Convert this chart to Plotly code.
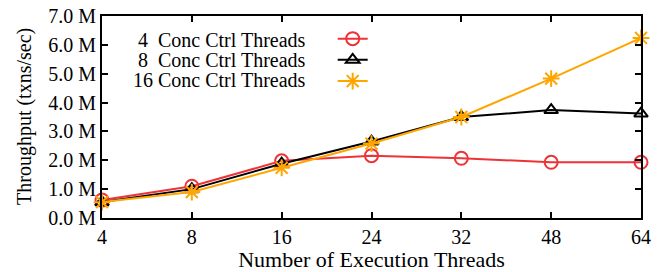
import plotly.graph_objects as go

threads = ["4", "8", "16", "24", "32", "48", "64"]
cc4 = [0.62, 1.10, 1.98, 2.16, 2.07, 1.93, 1.93]
cc8 = [0.55, 1.00, 1.88, 2.65, 3.50, 3.74, 3.62]
cc16 = [0.55, 0.90, 1.74, 2.58, 3.50, 4.83, 6.24]
series_names = ["4  Conc Ctrl Threads", "8  Conc Ctrl Threads", "16 Conc Ctrl Threads"]
y_ticks = [0, 1, 2, 3, 4, 5, 6, 7]
y_labels = ["0.0 M", "1.0 M", "2.0 M", "3.0 M", "4.0 M", "5.0 M", "6.0 M", "7.0 M"]

FONT = "Liberation Serif"
fig = go.Figure()
styles = [
    (cc4, "#ee3338", "circle-open", 13),
    (cc8, "#000000", "triangle-up-open", 12),
    (cc16, "#ffa500", "asterisk-open", 14),
]
for (vals, color, sym, sz) in styles:
    fig.add_trace(go.Scatter(
        x=threads, y=vals, mode="lines+markers", name=" ",
        line=dict(color=color, width=2),
        marker=dict(symbol=sym, size=sz, color=color, line=dict(color=color, width=2)),
        cliponaxis=False,
    ))

for i, nm in enumerate(series_names):
    fig.add_annotation(
        xref="paper", yref="paper", x=0.382, y=0.881 - i * 0.099,
        text=nm, showarrow=False, xanchor="right", yanchor="middle",
        font=dict(family=FONT, size=20, color="black"),
    )

fig.add_annotation(
    xref="paper", yref="paper", x=0, y=0.5, xshift=-78,
    text="Throughput (txns/sec)", textangle=-90, showarrow=False,
    xanchor="center", yanchor="middle",
    font=dict(family=FONT, size=20, color="black"),
)

fig.update_layout(
    width=667, height=272,
    margin=dict(l=102, r=26, t=16, b=54),
    paper_bgcolor="white", plot_bgcolor="white",
    font=dict(family=FONT, size=20, color="black"),
    showlegend=True,
    legend=dict(x=0.428, y=0.965, xanchor="left", yanchor="top",
                bgcolor="rgba(0,0,0,0)", font=dict(family=FONT, size=14),
                tracegroupgap=0, itemwidth=30),
    xaxis=dict(
        type="category", range=[0, 6], automargin=False,
        showline=True, linecolor="black", linewidth=2, mirror="ticks",
        ticks="inside", ticklen=6, tickcolor="black", tickwidth=1.5,
        showgrid=False, zeroline=False,
        tickfont=dict(family=FONT, size=20),
        title=dict(text="Number of Execution Threads", font=dict(family=FONT, size=22), standoff=0),
    ),
    yaxis=dict(
        range=[0, 7], tickvals=y_ticks, ticktext=y_labels, automargin=False,
        showline=True, linecolor="black", linewidth=2, mirror="ticks",
        ticks="inside", ticklen=6, tickcolor="black", tickwidth=1.5,
        showgrid=False, zeroline=False,
        tickfont=dict(family=FONT, size=20),
    ),
)
fig.write_html("out.html", config={"displayModeBar": False},
               post_script="document.body.style.margin='0';")
